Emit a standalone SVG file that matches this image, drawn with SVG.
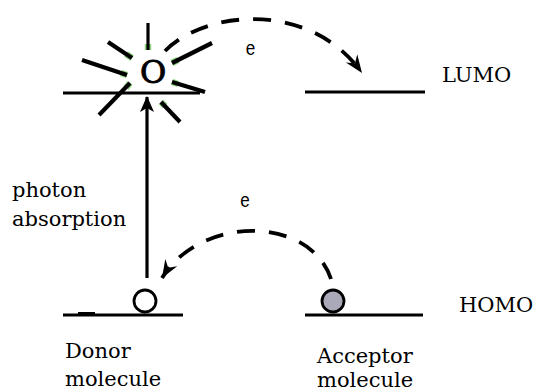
<svg xmlns="http://www.w3.org/2000/svg" width="536" height="392" viewBox="0 0 536 392">
  <style>
    .lvl { stroke: #000; stroke-width: 2.8; fill: none; }
    .ray { stroke: #000; stroke-width: 4.2; fill: none; stroke-linecap: butt; }
    .glow { stroke: #7ccc6a; stroke-width: 6.5; fill: none; opacity: 0.85; }
    .dash { stroke: #000; stroke-width: 3.8; fill: none; stroke-dasharray: 18 14; }
    .lbl { font-family: "DejaVu Serif", "Liberation Serif", serif; font-size: 21px; fill: #000; }
    .e { font-family: "Liberation Sans", Arial, sans-serif; font-size: 20px; fill: #000; }
  </style>
  <defs>
    <marker id="barb" viewBox="-18 -8 20 16" refX="0" refY="0" markerWidth="20" markerHeight="16" markerUnits="userSpaceOnUse" orient="auto">
      <path d="M0,0 L-18,-7 L-12,0 L-18,7 Z" fill="#000"/>
    </marker>
    <marker id="solid" viewBox="-16 -8 18 16" refX="0" refY="0" markerWidth="18" markerHeight="16" markerUnits="userSpaceOnUse" orient="auto">
      <path d="M1,0 L-15,-7 L-11,0 L-15,7 Z" fill="#000"/>
    </marker>
  </defs>

  <g id="donor-lumo">
    <line class="lvl" x1="63" y1="93" x2="200" y2="93"/>
  </g>
  <g id="acceptor-lumo">
    <line class="lvl" x1="305" y1="92" x2="425" y2="92"/>
    <text class="lbl" x="442" y="82">LUMO</text>
  </g>
  <g id="donor-homo">
    <line class="lvl" x1="63" y1="315" x2="183" y2="315"/>
    <line stroke="#000" stroke-width="3" x1="78" y1="313.5" x2="95" y2="313.5"/>
    <circle cx="145" cy="301" r="11" fill="#fff" stroke="#000" stroke-width="2.8"/>
    <text class="lbl" x="65" y="358">Donor</text>
    <text class="lbl" x="65" y="386">molecule</text>
  </g>
  <g id="acceptor-homo">
    <line class="lvl" x1="305" y1="315" x2="423" y2="315"/>
    <circle cx="333" cy="301" r="11" fill="#a9a9b9" stroke="#000" stroke-width="2.8"/>
    <text class="lbl" x="459" y="312">HOMO</text>
    <text class="lbl" x="317" y="363">Acceptor</text>
    <text class="lbl" x="317" y="387">molecule</text>
  </g>
  <g id="excited-electron">
    <line class="glow" x1="148" y1="44" x2="148" y2="50"/>
    <line class="glow" x1="126" y1="54" x2="132" y2="58"/>
    <line class="glow" x1="121" y1="73" x2="127" y2="75"/>
    <line class="glow" x1="130" y1="83" x2="126" y2="88"/>
    <line class="glow" x1="161" y1="102" x2="165" y2="106"/>
    <line class="glow" x1="172" y1="82" x2="178" y2="84"/>
    <line class="glow" x1="172" y1="63" x2="178" y2="60"/>
    <line class="ray" x1="148" y1="23" x2="148" y2="50" style="stroke-width:3.2"/>
    <line class="ray" x1="108" y1="42" x2="132" y2="58"/>
    <line class="ray" x1="82" y1="60" x2="127" y2="75"/>
    <line class="ray" x1="130" y1="83" x2="99" y2="115"/>
    <line class="ray" x1="161" y1="102" x2="180" y2="122"/>
    <line class="ray" x1="172" y1="82" x2="205" y2="92"/>
    <line class="ray" x1="172" y1="63" x2="212" y2="43"/>
    <text x="153" y="83" text-anchor="middle" style="font-family:'DejaVu Serif','Liberation Serif',serif;font-size:32px;fill:#000;stroke:#000;stroke-width:0.9">O</text>
  </g>

  <g id="connectors">
    <line x1="147" y1="278" x2="147" y2="97" stroke="#000" stroke-width="3.2" marker-end="url(#solid)"/>
    <path class="dash" d="M165,51 C205,10 310,0 362,73" marker-end="url(#barb)"/>
    <path class="dash" d="M331,279 C310,215 200,215 162,278" marker-end="url(#barb)"/>
    <text class="e" x="250.5" y="55" text-anchor="middle" textLength="9.5" lengthAdjust="spacingAndGlyphs">e</text>
    <text class="e" x="245" y="207" text-anchor="middle" textLength="9.5" lengthAdjust="spacingAndGlyphs">e</text>
    <text class="lbl" x="12" y="197">photon</text>
    <text class="lbl" x="12" y="226">absorption</text>
  </g>
</svg>
